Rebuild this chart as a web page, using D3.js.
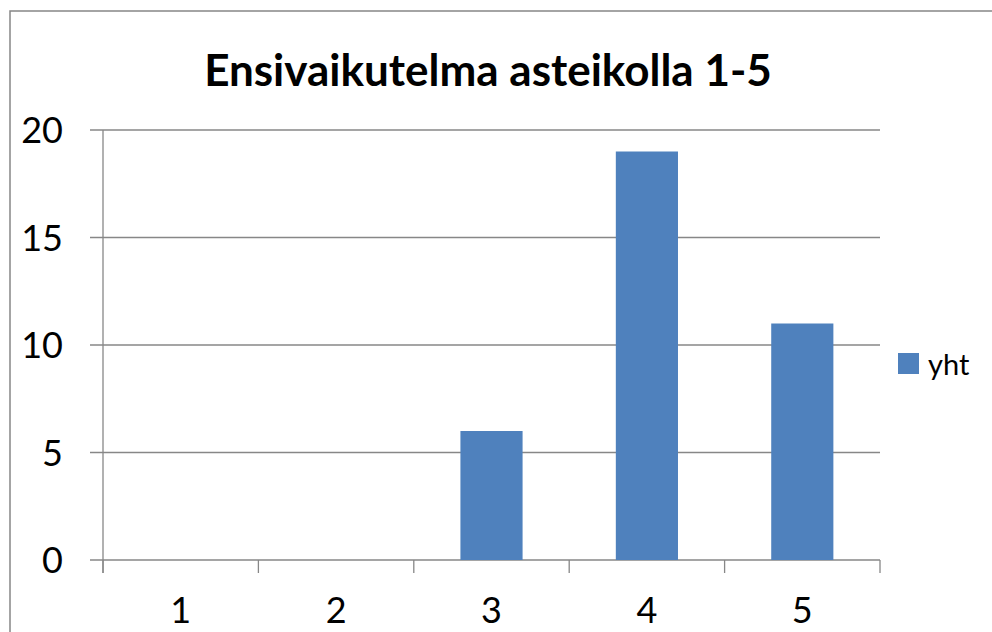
<!DOCTYPE html>
<html>
<head>
<meta charset="utf-8">
<script src="https://cdn.jsdelivr.net/npm/d3@7"></script>
<style>
  html, body { margin: 0; padding: 0; background: #fff; }
  svg { display: block; font-family: Lato, "Open Sans", sans-serif; }
</style>
</head>
<body>
<svg id="chart" width="992" height="632"></svg>
<script>
// Ratings on a 1–5 scale and how many answers each got
const categories = ["1", "2", "3", "4", "5"];
const counts = [0, 0, 6, 19, 11];
const yTicks = [0, 5, 10, 15, 20];
const seriesName = "yht";
const title = "Ensivaikutelma asteikolla 1-5";

const svg = d3.select("#chart");
const W = 992, H = 632;
const plot = { left: 103, right: 880, top: 130, bottom: 560 };
const gridColor = "#878787";
const barColor = "#4F81BD";

// chart frame
svg.append("rect")
  .attr("x", 10).attr("y", 11)
  .attr("width", W + 20).attr("height", H + 20)
  .attr("fill", "#fff").attr("stroke", "#868686").attr("stroke-width", 1.5);

const x = d3.scaleBand()
  .domain(categories)
  .range([plot.left, plot.right])
  .paddingInner(0.6)
  .paddingOuter(0.3);

const y = d3.scaleLinear()
  .domain([0, 20])
  .range([plot.bottom, plot.top]);

// horizontal gridlines (with their left tick stubs)
svg.append("g").selectAll("line")
  .data(yTicks)
  .join("line")
  .attr("x1", plot.left - 13).attr("x2", plot.right)
  .attr("y1", d => y(d)).attr("y2", d => y(d))
  .attr("stroke", gridColor).attr("stroke-width", 1.3);

// y axis labels
const yAxis = svg.append("g")
  .attr("transform", `translate(${plot.left},0)`)
  .call(d3.axisLeft(y).tickValues(yTicks).tickSize(0).tickPadding(40).tickFormat(d3.format("d")));
yAxis.select(".domain").remove();
yAxis.selectAll("text")
  .attr("font-family", "Lato, sans-serif")
  .attr("font-size", 36).attr("fill", "#000").attr("dy", "0.35em");

// vertical axis line
svg.append("line")
  .attr("x1", plot.left).attr("x2", plot.left)
  .attr("y1", plot.top).attr("y2", plot.bottom + 13)
  .attr("stroke", gridColor).attr("stroke-width", 1.3);

// category boundary ticks
svg.append("g").selectAll("line")
  .data(d3.range(categories.length + 1))
  .join("line")
  .attr("x1", i => plot.left + i * x.step())
  .attr("x2", i => plot.left + i * x.step())
  .attr("y1", plot.bottom).attr("y2", plot.bottom + 13)
  .attr("stroke", gridColor).attr("stroke-width", 1.3);

// bars
svg.append("g").selectAll("rect")
  .data(counts.map((v, i) => ({ c: categories[i], v })))
  .join("rect")
  .attr("x", d => x(d.c))
  .attr("width", x.bandwidth())
  .attr("y", d => y(d.v))
  .attr("height", d => y(0) - y(d.v))
  .attr("fill", barColor);

// x axis labels
const xAxis = svg.append("g")
  .attr("transform", `translate(0,${plot.bottom})`)
  .call(d3.axisBottom(x).tickSize(0));
xAxis.select(".domain").remove();
xAxis.selectAll("text")
  .attr("y", 63).attr("dy", null)
  .attr("font-family", "Lato, sans-serif")
  .attr("font-size", 36).attr("fill", "#000");

// title
svg.append("text")
  .attr("x", 488).attr("y", 86)
  .attr("text-anchor", "middle")
  .attr("font-family", "Lato, sans-serif")
  .attr("font-weight", "bold")
  .attr("font-size", 44)
  .attr("fill", "#000")
  .text(title);

// legend
const legend = svg.append("g").attr("transform", "translate(898,353)");
legend.append("rect").attr("width", 21).attr("height", 21).attr("fill", barColor);
legend.append("text")
  .attr("x", 30).attr("y", 22)
  .attr("font-family", "Lato, sans-serif")
  .attr("font-size", 29).attr("fill", "#000")
  .text(seriesName);
</script>
</body>
</html>
